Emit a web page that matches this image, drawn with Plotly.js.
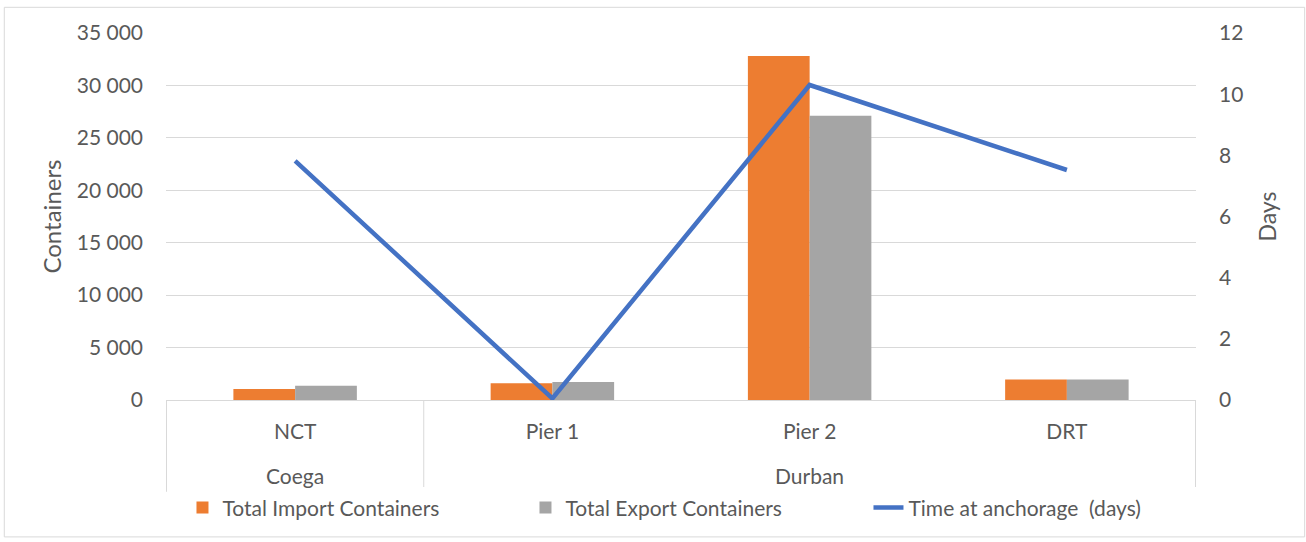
<!DOCTYPE html>
<html>
<head>
<meta charset="utf-8">
<script src="https://cdn.plot.ly/plotly-3.0.1.min.js"></script>
<style>html,body{margin:0;padding:0;background:#fff}#chart{width:1306px;height:542px}</style>
</head>
<body>
<div id="chart"></div>
<script>
const ports = ["Coega", "Durban", "Durban", "Durban"];
const terminals = ["NCT", "Pier 1", "Pier 2", "DRT"];
const importContainers = [1050, 1590, 32800, 1950];
const exportContainers = [1370, 1720, 27100, 1950];
const anchorageDays = [7.82, 0.05, 10.3, 7.52];
const yTicks = [0, 5000, 10000, 15000, 20000, 25000, 30000, 35000];
const y2Ticks = [0, 2, 4, 6, 8, 10, 12];

const FONT = "Lato, Noto Sans, sans-serif";
const GREY = "#595959";
const LINE = "#D9D9D9";

const data = [
  {type: "bar", name: "Total Import Containers", x: terminals, y: importContainers,
   marker: {color: "#ED7D31"}, hoverinfo: "skip"},
  {type: "bar", name: "Total Export Containers", x: terminals, y: exportContainers,
   marker: {color: "#A5A5A5"}, hoverinfo: "skip"},
  {type: "scatter", mode: "lines", name: "Time at anchorage  (days)", x: terminals, y: anchorageDays,
   yaxis: "y2", line: {color: "#4472C4", width: 4.5}, hoverinfo: "skip"}
];

// group (port) labels and dividers, placed via category indices on the x axis
const annotations = [];
const shapes = [];
const groups = [];
ports.forEach((p, i) => {
  if (!groups.length || groups[groups.length - 1].name !== p) groups.push({name: p, start: i, end: i});
  else groups[groups.length - 1].end = i;
});
groups.forEach((g, k) => {
  annotations.push({xref: "x", yref: "paper", x: (g.start + g.end) / 2, y: -0.205, text: g.name,
    showarrow: false, xanchor: "center", yanchor: "middle", font: {family: FONT, size: 21, color: GREY}});
  if (k === 0) shapes.push({type: "line", xref: "x", yref: "paper", x0: g.start - 0.5, x1: g.start - 0.5,
    y0: 0, y1: -0.25, line: {color: LINE, width: 1}});
  shapes.push({type: "line", xref: "x", yref: "paper", x0: g.end + 0.5, x1: g.end + 0.5,
    y0: 0, y1: -0.25, line: {color: LINE, width: 1}});
});
shapes.push({type: "rect", xref: "paper", yref: "paper", x0: -0.157, x1: 1.1055, y0: -0.373, y1: 1.07,
  line: {color: LINE, width: 1}, fillcolor: "rgba(0,0,0,0)"});

const layout = {
  width: 1306, height: 542,
  margin: {l: 166, r: 110, t: 33, b: 142},
  paper_bgcolor: "#fff", plot_bgcolor: "#fff",
  font: {family: FONT, size: 21, color: GREY},
  separators: ", ",
  barmode: "group", bargap: 0.52, bargroupgap: 0,
  showlegend: true,
  legend: {orientation: "h", x: 0.016, xanchor: "left", y: -0.294, yanchor: "middle",
           font: {family: FONT, size: 21, color: GREY}, entrywidth: 298, entrywidthmode: "pixels",
           itemwidth: 30, tracegroupgap: 0},
  xaxis: {type: "category", showline: true, linecolor: LINE, linewidth: 1,
          showgrid: false, ticks: "", ticklabelstandoff: 13,
          tickfont: {family: FONT, size: 21, color: GREY}},
  yaxis: {range: [0, 35000], tickvals: yTicks, tickformat: ",d", showgrid: true,
          gridcolor: LINE, gridwidth: 1, zeroline: false, ticks: "", ticklabelstandoff: 22,
          tickfont: {family: FONT, size: 21, color: GREY},
          title: {text: "Containers", font: {family: FONT, size: 24, color: GREY}, standoff: 8}},
  yaxis2: {overlaying: "y", side: "right", range: [0, 12], tickvals: y2Ticks, showgrid: false,
           zeroline: false, ticks: "", ticklabelstandoff: 22,
           tickfont: {family: FONT, size: 21, color: GREY},
           title: {text: "Days", font: {family: FONT, size: 23, color: GREY}, standoff: 17}},
  annotations: annotations,
  shapes: shapes
};

Plotly.newPlot("chart", data, layout, {displayModeBar: false, staticPlot: true});
</script>
</body>
</html>
